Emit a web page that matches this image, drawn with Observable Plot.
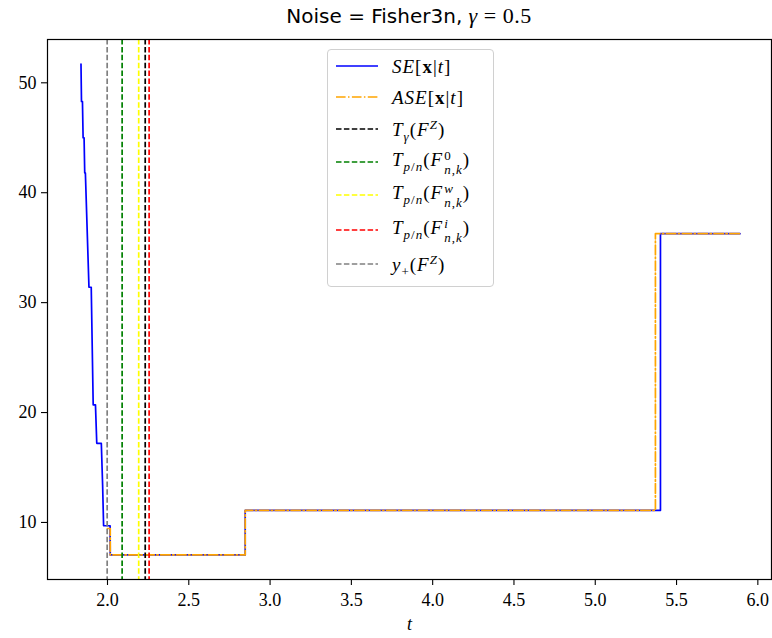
<!DOCTYPE html>
<html><head><meta charset="utf-8">
<script src="https://cdn.jsdelivr.net/npm/d3@7"></script>
<script src="https://cdn.jsdelivr.net/npm/@observablehq/plot@0.6"></script>
<style>
body{margin:0;background:#fff;}
#wrap{position:relative;width:772px;height:638px;overflow:hidden;}
#title{position:absolute;top:3px;left:0;width:818px;text-align:center;white-space:nowrap;}
#title .s{font-family:"DejaVu Sans",sans-serif;font-size:20px;}
#title .m{font-family:"Liberation Serif",serif;font-size:22px;letter-spacing:0.5px;}
#legend{position:absolute;left:327px;top:49px;width:165px;height:236px;border:1px solid #d0d0d0;border-radius:4px;background:rgba(255,255,255,0.85);}
.row{position:absolute;left:0;height:30px;display:flex;align-items:center;}
.row svg{margin-left:8px;}
.lab{margin-left:14px;font-family:"Liberation Serif",serif;font-size:19px;line-height:1;white-space:nowrap;letter-spacing:1px;}
.lab sub,.lab sup{font-size:13px;line-height:0;}
.ss{display:inline-flex;flex-direction:column;vertical-align:middle;font-size:13px;line-height:1.05;margin-left:1px;position:relative;top:1px;}
</style>
</head><body>
<div id="wrap">
<div id="title"><span class="s">Noise = Fisher3n, </span><span class="m"><i>γ</i> = 0.5</span></div>
<div id="chart"></div>
<div id="legend"></div>
</div>
<script>
// SE[x|t] series (step function, blue)
const seT = [1.837, 1.840, 1.846, 1.850, 1.856, 1.860, 1.864, 1.886, 1.900, 1.912, 1.926, 1.934, 1.962, 1.970, 1.976, 2.016, 2.017, 2.847, 2.847, 5.401, 5.401, 5.890];
const seV = [51.7, 48.3, 48.3, 45.0, 45.0, 41.8, 41.8, 31.4, 31.4, 20.7, 20.7, 17.2, 17.2, 13.4, 9.7, 9.7, 7.05, 7.05, 11.1, 11.1, 36.27, 36.27];
// ASE[x|t] series (orange dash-dot)
const aseT = [2.000, 2.017, 2.017, 2.847, 2.847, 5.370, 5.370, 5.890];
const aseV = [9.45, 9.45, 7.05, 7.05, 11.1, 11.1, 36.27, 36.27];
// vertical reference lines
const vNames = ["T_gamma(F^Z)", "T_p/n(F0)", "T_p/n(Fw)", "T_p/n(Fi)", "y+(F^Z)"];
const vT = [2.232, 2.090, 2.192, 2.256, 1.998];
const vColors = ["black", "green", "yellow", "red", "gray"];
// axis ticks
const xTicks = [2.0, 2.5, 3.0, 3.5, 4.0, 4.5, 5.0, 5.5, 6.0];
const yTicks = [10, 20, 30, 40, 50];

const se = seT.map((t, i) => ({t, v: seV[i]}));
const ase = aseT.map((t, i) => ({t, v: aseV[i]}));
const vl = vT.map((t, i) => ({t, name: vNames[i], color: vColors[i]}));

const FONT = '"Liberation Serif", serif';
const chart = Plot.plot({
  width: 772, height: 638,
  marginLeft: 47, marginRight: 1, marginTop: 39, marginBottom: 59,
  x: {domain: [1.631, 6.084]},
  y: {domain: [4.81, 53.94]},
  color: {type: "identity"},
  style: {fontFamily: FONT, fontSize: "18px", background: "white", color: "black"},
  marks: [
    Plot.line(se, {x: "t", y: "v", stroke: "blue", strokeWidth: 1.7}),
    Plot.line(ase, {x: "t", y: "v", stroke: "orange", strokeWidth: 1.7, strokeDasharray: "9.6,2.4,1.5,2.4"}),
    Plot.ruleX(vl, {x: "t", stroke: "color", strokeWidth: 1.7, strokeDasharray: "5.5,2.4"}),
    Plot.axisX(xTicks, {tickSize: 6, tickPadding: 8, tickFormat: d => d.toFixed(1), label: null, fontSize: 18, strokeWidth: 1.1}),
    Plot.axisY(yTicks, {tickSize: 6, tickPadding: 5, label: null, fontSize: 18, strokeWidth: 1.1}),
    Plot.frame({stroke: "black", strokeWidth: 1.2}),
    Plot.text(["t"], {frameAnchor: "bottom", dy: 50, text: d => d, fontStyle: "italic", fontSize: 18})
  ]
});
document.getElementById("chart").appendChild(chart);

// legend
const legItems = [
  {html: '<i>SE</i>[<b>x</b>|<i>t</i>]', color: "blue", dash: null},
  {html: '<i>ASE</i>[<b>x</b>|<i>t</i>]', color: "orange", dash: "9.6,2.4,1.5,2.4"},
  {html: '<i>T</i><sub><i>γ</i></sub>(<i>F</i><sup><i>Z</i></sup>)', color: "black", dash: "5.5,2.4"},
  {html: '<i>T</i><sub><i>p</i>/<i>n</i></sub>(<i>F</i><span class="ss"><span>0</span><span><i>n</i>,<i>k</i></span></span>)', color: "green", dash: "5.5,2.4"},
  {html: '<i>T</i><sub><i>p</i>/<i>n</i></sub>(<i>F</i><span class="ss"><span><i>w</i></span><span><i>n</i>,<i>k</i></span></span>)', color: "yellow", dash: "5.5,2.4"},
  {html: '<i>T</i><sub><i>p</i>/<i>n</i></sub>(<i>F</i><span class="ss"><span><i>i</i></span><span><i>n</i>,<i>k</i></span></span>)', color: "red", dash: "5.5,2.4"},
  {html: '<i>y</i><sub>+</sub>(<i>F</i><sup><i>Z</i></sup>)', color: "gray", dash: "5.5,2.4"}
];
const rowY = [16, 47, 79, 112, 145, 180, 214];
const leg = document.getElementById("legend");
legItems.forEach((it, i) => {
  const r = document.createElement("div");
  r.className = "row";
  r.style.top = (rowY[i] - 15) + "px";
  r.innerHTML = `<svg width="42" height="30"><line x1="0" x2="42" y1="15" y2="15" stroke="${it.color}" stroke-width="1.7" ${it.dash ? `stroke-dasharray="${it.dash}"` : ""}/></svg><span class="lab">${it.html}</span>`;
  leg.appendChild(r);
});
</script>
</body></html>
